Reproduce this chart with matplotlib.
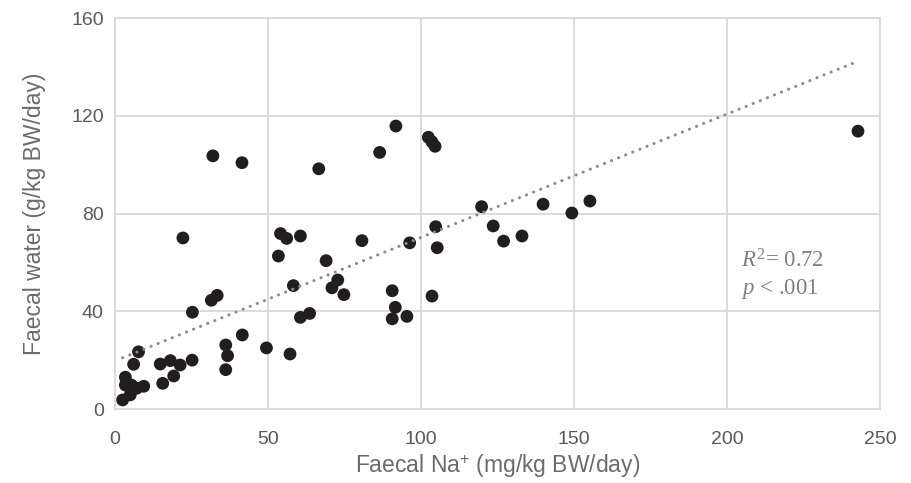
import numpy as np
import matplotlib
matplotlib.use("Agg")
import matplotlib.pyplot as plt

plt.rcParams['font.family'] = ['Liberation Sans', 'DejaVu Sans']
plt.rcParams['mathtext.fontset'] = 'custom'
plt.rcParams['mathtext.rm'] = 'Liberation Serif'
plt.rcParams['mathtext.it'] = 'Liberation Serif:italic'
plt.rcParams['mathtext.sf'] = 'Liberation Sans'

# faecal Na+ (mg/kg BW/day) vs faecal water (g/kg BW/day)
na = [242.8, 155.2, 149.3, 139.9, 119.8, 123.6, 127.0, 133.0, 104.8, 105.3,
      96.3, 103.6, 95.4, 90.6, 91.6, 90.6, 102.4, 103.6, 104.6, 91.8,
      86.5, 66.6, 41.5, 32.0, 22.2, 54.1, 56.1, 60.6, 53.4, 69.0,
      80.7, 58.3, 72.8, 70.9, 74.8, 60.6, 63.6, 31.5, 33.4, 25.3,
      41.6, 36.2, 36.8, 36.2, 49.5, 57.2, 25.2, 21.3, 18.1, 14.8,
      19.2, 15.6, 7.7, 6.1, 3.4, 3.4, 5.4, 7.1, 9.4, 5.0, 2.5]
water = [113.7, 85.1, 80.2, 83.8, 82.8, 74.9, 68.7, 70.8, 74.6, 66.0,
         68.0, 46.2, 37.9, 36.9, 41.6, 48.4, 111.2, 109.3, 107.5, 115.8,
         105.0, 98.3, 100.8, 103.6, 70.0, 71.8, 69.8, 70.8, 62.6, 60.7,
         68.9, 50.5, 52.8, 49.6, 46.8, 37.5, 39.1, 44.5, 46.5, 39.6,
         30.3, 26.2, 21.8, 16.1, 25.0, 22.5, 20.0, 18.0, 19.8, 18.4,
         13.5, 10.5, 23.4, 18.3, 13.0, 9.8, 9.8, 8.5, 9.3, 5.8, 3.7]

# linear trendline (Excel fit)
trend_slope = 0.505
trend_intercept = 19.7

xticks = [0, 50, 100, 150, 200, 250]
yticks = [0, 40, 80, 120, 160]

x = np.array(na)
y = np.array(water)
xfit = np.array([x.min(), x.max()])

fig = plt.figure(figsize=(9.11, 4.83), dpi=100)
ax = fig.add_axes([0.1262, 0.1532, 0.8398, 0.8095])

ax.plot(xfit, trend_slope * xfit + trend_intercept, color='#8c8c8c', lw=2.2,
        linestyle=(0, (0.05, 2.45)), dash_capstyle='round', zorder=3)
ax.scatter(x, y, s=85, color='#221e1f', edgecolors='none', zorder=2)

ax.text(204.5, 60.5, r'$R^{2}$= 0.72', family='Liberation Serif', fontsize=16.5,
        color='#808080', va='center')
ax.text(204.5, 49, r'$p$ < .001', family='Liberation Serif', fontsize=16.5,
        color='#808080', va='center')

ax.set_xlim(0, 250)
ax.set_ylim(0, 160)
ax.set_xticks(xticks)
ax.set_yticks(yticks)
ax.grid(True, color='#d9d9d9', lw=1.3, zorder=0)
ax.set_axisbelow(True)
for s in ax.spines.values():
    s.set_color('#d9d9d9')
    s.set_linewidth(1.3)
ax.tick_params(length=0, labelsize=14, colors='#595959')
ax.tick_params(axis='x', pad=16)
ax.tick_params(axis='y', pad=8)
ax.set_xlabel(r'Faecal Na$^{\mathsf{+}}$ (mg/kg BW/day)', fontsize=16.5,
              color='#6b6b6b', labelpad=3)
ax.set_ylabel('Faecal water (g/kg BW/day)', fontsize=16.5, color='#6b6b6b',
              labelpad=18)

fig.savefig('out.png', dpi=100)
